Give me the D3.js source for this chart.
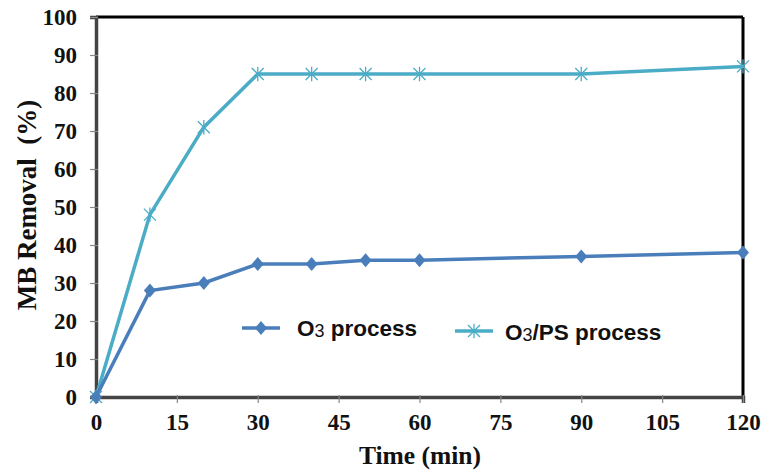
<!DOCTYPE html>
<html>
<head>
<meta charset="utf-8">
<script src="https://cdn.jsdelivr.net/npm/d3@7"></script>
<style>
  body { margin: 0; background: #fff; }
</style>
</head>
<body>
<div id="app"></div>
<script>
const times     = [0, 10, 20, 30, 40, 50, 60, 90, 120];
const o3        = [0, 28, 30, 35, 35, 36, 36, 37, 38];
const o3ps      = [0, 48, 71, 85, 85, 85, 85, 85, 87];
const xTicks    = [0, 15, 30, 45, 60, 75, 90, 105, 120];
const yTicks    = [0, 10, 20, 30, 40, 50, 60, 70, 80, 90, 100];

const W = 762, H = 471;
const m = { t: 17, r: 19, b: 74, l: 96 };
const serif = "'Liberation Serif', 'Times New Roman', serif";

const svg = d3.select("#app").append("svg")
    .attr("width", W).attr("height", H);

const x = d3.scaleLinear().domain([0, 120]).range([m.l, W - m.r]);
const y = d3.scaleLinear().domain([0, 100]).range([H - m.b, m.t]);

// frame: top and right black, left/bottom dark grey
svg.append("line").attr("x1", x(0)).attr("x2", x(120)).attr("y1", y(100)).attr("y2", y(100))
    .attr("stroke", "#000").attr("stroke-width", 3);
svg.append("line").attr("x1", x(120)).attr("x2", x(120)).attr("y1", y(100)).attr("y2", y(0))
    .attr("stroke", "#000").attr("stroke-width", 3);

const xAxis = svg.append("g")
    .attr("transform", "translate(0," + y(0) + ")")
    .call(d3.axisBottom(x).tickValues(xTicks).tickSize(6).tickPadding(11));
const yAxis = svg.append("g")
    .attr("transform", "translate(" + x(0) + ",0)")
    .call(d3.axisLeft(y).tickValues(yTicks).tickSize(6).tickPadding(13));

[xAxis, yAxis].forEach(a => {
    a.select(".domain").attr("stroke", "#444").attr("stroke-width", 3.5);
    a.selectAll(".tick line").attr("stroke", "#888").attr("stroke-width", 1.2);
    a.selectAll(".tick text")
        .style("font-family", serif).style("font-weight", "bold")
        .style("font-size", "23px").attr("fill", "#111");
});
xAxis.selectAll(".tick line").attr("y1", -2).attr("y2", 6);
yAxis.selectAll(".tick line").attr("x1", 2).attr("x2", -6);
yAxis.selectAll(".tick text").attr("dy", "0.33em");

// series
const c1 = "#4a7ebb", c2 = "#4bacc6";
const line = d3.line().x(d => x(d[0])).y(d => y(d[1]));
const s1 = times.map((t, i) => [t, o3[i]]);
const s2 = times.map((t, i) => [t, o3ps[i]]);

svg.append("path").datum(s2).attr("d", line)
    .attr("fill", "none").attr("stroke", c2).attr("stroke-width", 3.5);
svg.append("path").datum(s1).attr("d", line)
    .attr("fill", "none").attr("stroke", c1).attr("stroke-width", 3.5);

function star(g, cx, cy, r, col) {
    const d = "M" + (cx - r) + "," + (cy - r) + "L" + (cx + r) + "," + (cy + r) +
              "M" + (cx - r) + "," + (cy + r) + "L" + (cx + r) + "," + (cy - r) +
              "M" + cx + "," + (cy - r * 1.2) + "L" + cx + "," + (cy + r * 1.2);
    g.append("path").attr("d", d).attr("stroke", col).attr("stroke-width", 1.3).attr("fill", "none");
}
// excel-style diamond marker
const diamond = "M0,-7L6,0L0,7L-6,0Z";

const mk2 = svg.append("g");
s2.forEach(d => star(mk2, x(d[0]), y(d[1]), 6, c2));
svg.append("g").selectAll("path").data(s1).enter().append("path")
    .attr("d", diamond)
    .attr("transform", d => "translate(" + x(d[0]) + "," + y(d[1]) + ")")
    .attr("fill", c1);

// legend
const leg = svg.append("g").style("font-family", "Arial, 'Liberation Sans', sans-serif")
    .style("font-weight", "bold").style("font-size", "22.5px");
leg.append("line").attr("x1", 242).attr("x2", 280).attr("y1", 328).attr("y2", 328)
    .attr("stroke", c1).attr("stroke-width", 3.5);
leg.append("path").attr("d", diamond).attr("transform", "translate(261,328)").attr("fill", c1);
const t1 = leg.append("text").attr("x", 297).attr("y", 336).attr("fill", "#111");
t1.append("tspan").text("O");
t1.append("tspan").text("3").style("font-size", "18px").style("font-weight", "normal").attr("dy", 1);
t1.append("tspan").text(" process").attr("dy", -1);

leg.append("line").attr("x1", 455).attr("x2", 493).attr("y1", 331).attr("y2", 331)
    .attr("stroke", c2).attr("stroke-width", 3.5);
star(leg, 474, 331, 6, c2);
const t2 = leg.append("text").attr("x", 505).attr("y", 340).attr("fill", "#111");
t2.append("tspan").text("O");
t2.append("tspan").text("3").style("font-size", "18px").style("font-weight", "normal").attr("dy", 1);
t2.append("tspan").text("/PS process").attr("dy", -1);

// axis titles
svg.append("text").attr("x", 420).attr("y", 464).attr("text-anchor", "middle")
    .style("font-family", serif)
    .style("font-weight", "bold").style("font-size", "25.5px").attr("fill", "#111")
    .text("Time (min)");
svg.append("text").attr("transform", "translate(36,205) rotate(-90)").attr("text-anchor", "middle")
    .style("font-family", serif)
    .style("font-weight", "bold").style("font-size", "27px").attr("fill", "#111")
    .text("MB Removal\u00a0 (%)");
</script>
</body>
</html>
